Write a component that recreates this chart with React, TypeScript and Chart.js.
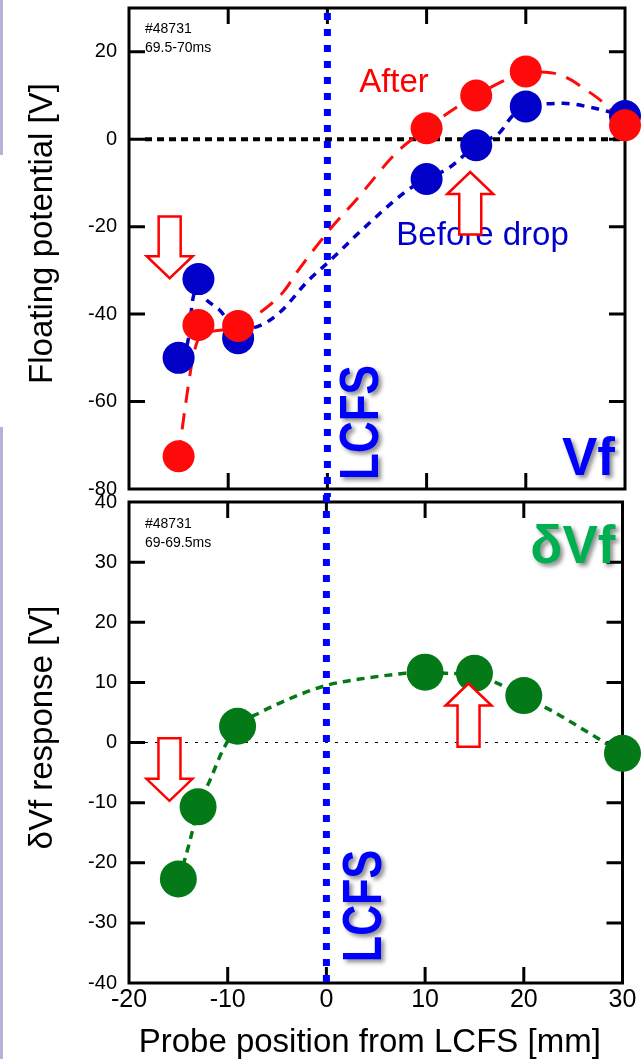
import React, { useEffect, useRef } from "react";
import { Chart, registerables } from "chart.js";

Chart.register(...registerables);

const FONT = '"Liberation Sans", Arial, Helvetica, sans-serif';

// ---- data ----
const probePos = [-15, -13, -9, 10, 15, 20, 30];
const vfBefore = [-50, -32, -45.5, -9.1, -1.4, 7.5, 5.3];
const vfAfter = [-72.5, -42.5, -42.7, 2.5, 10, 15.5, 3.2];
const dVf = [-22.7, -10.7, 2.7, 11.7, 11.5, 7.8, -1.8];

// fitted curves
const afterFitX = [-15, -14.3, -13.5, -12.8, -11.5, -9, -7, -4.4, -3, 0.3, 3, 7, 10, 12.5, 15, 18, 20, 22.5, 24, 26, 28, 30];
const afterFitY = [-72.5, -60.7, -49.3, -45, -43.9, -43, -40, -34.8, -30.2, -20.5, -13.6, -3, 2.5, 6.5, 10, 13.6, 15.4, 15.2, 14.2, 11.4, 8, 3.2];
const beforeFitX = [-15, -14, -13.6, -13, -12.5, -10.9, -9, -6.75, -4.7, -2, 0.3, 3.6, 8, 10, 12.1, 15, 17.4, 18.6, 20, 21.6, 23.8, 26.5, 28.2, 30];
const beforeFitY = [-50, -45.5, -37, -34, -36, -39, -43.5, -42.6, -39.4, -32.5, -27.7, -20.5, -11.8, -9, -6.8, -1.4, 1.6, 5.2, 7.5, 8, 8.2, 7.3, 6.4, 5.3];
const dvfFitX = [-15, -14.3, -13.5, -13, -11.8, -10.5, -9, -6.7, -3.4, 0, 4, 8, 10, 12.1, 15, 17.4, 20, 22.8, 26.2, 28.2, 30];
const dvfFitY = [-22.7, -19.2, -14.2, -10.7, -6.3, -1.3, 2.7, 5, 7.5, 9.5, 10.7, 11.5, 11.7, 11.5, 11.3, 9.8, 7.6, 5.3, 2, 0, -1.8];

const xTicks = [-20, -10, 0, 10, 20, 30];
const yTicksTop = [-80, -60, -40, -20, 0, 20];
const yTicksBottom = [-40, -30, -20, -10, 0, 10, 20, 30, 40];

// annotation arrows (x, tail y, tip y) in data units
const topArrowX = [-15.9, 14.4];
const topArrowFrom = [-17.7, -21.8];
const topArrowTo = [-31.8, -7.5];
const botArrowX = [-15.9, 14.4];
const botArrowFrom = [0.7, -0.7];
const botArrowTo = [-9.7, 9.8];

const RED = "#ff0a0a";
const BLUE = "#0000c8";
const GREEN = "#037a17";

const pts = (xs: number[], ys: number[]) => xs.map((x, i) => ({ x, y: ys[i] }));

function drawArrow(ctx, cx, ys, yt) {
  const sw = 22, hw = 46, hl = 22;
  const dir = yt > ys ? 1 : -1;
  const yh = yt - dir * hl;
  ctx.beginPath();
  ctx.moveTo(cx - sw / 2, ys);
  ctx.lineTo(cx + sw / 2, ys);
  ctx.lineTo(cx + sw / 2, yh);
  ctx.lineTo(cx + hw / 2, yh);
  ctx.lineTo(cx, yt);
  ctx.lineTo(cx - hw / 2, yh);
  ctx.lineTo(cx - sw / 2, yh);
  ctx.closePath();
  ctx.fillStyle = "#fff";
  ctx.fill();
  ctx.strokeStyle = "#ff0000";
  ctx.lineWidth = 2.5;
  ctx.lineJoin = "miter";
  ctx.stroke();
}

function panelPlugin(spec) {
  return {
    id: "panel",
    beforeDatasetsDraw(chart) {
      const { ctx, chartArea: a } = chart;
      const x = chart.scales.x;
      const y = chart.scales.y;
      ctx.save();
      // zero line
      const y0 = y.getPixelForValue(0);
      ctx.strokeStyle = "#000";
      ctx.lineWidth = spec.zeroWidth;
      ctx.setLineDash(spec.zeroDash);
      ctx.beginPath();
      ctx.moveTo(a.left + 16, y0);
      ctx.lineTo(a.right, y0);
      ctx.stroke();
      ctx.setLineDash([]);
      // frame
      ctx.lineWidth = 3;
      ctx.strokeRect(a.left, a.top, a.right - a.left, a.bottom - a.top);
      // inward ticks
      ctx.beginPath();
      spec.yTicks.forEach((v) => {
        const py = y.getPixelForValue(v);
        if (py > a.top + 2 && py < a.bottom - 2) {
          ctx.moveTo(a.left, py);
          ctx.lineTo(a.left + 16, py);
          ctx.moveTo(a.right - 16, py);
          ctx.lineTo(a.right, py);
        }
      });
      xTicks.forEach((v) => {
        const px = x.getPixelForValue(v);
        if (px > a.left + 2 && px < a.right - 2) {
          ctx.moveTo(px, a.top);
          ctx.lineTo(px, a.top + 16);
          ctx.moveTo(px, a.bottom - 16);
          ctx.lineTo(px, a.bottom);
        }
      });
      ctx.stroke();
      // LCFS line
      const x0 = x.getPixelForValue(0);
      ctx.strokeStyle = "#0000ff";
      ctx.lineWidth = 7;
      ctx.setLineDash([7, 9]);
      ctx.beginPath();
      ctx.moveTo(x0, a.top + spec.lcfsTopExt);
      ctx.lineTo(x0, a.bottom + spec.lcfsBottomExt);
      ctx.stroke();
      ctx.restore();
    },
    afterDatasetsDraw(chart) {
      const { ctx, chartArea: a } = chart;
      const x = chart.scales.x;
      const y = chart.scales.y;
      ctx.save();
      // notes
      ctx.textAlign = "left";
      ctx.textBaseline = "alphabetic";
      spec.notes.forEach((n) => {
        ctx.font = `33px ${FONT}`;
        ctx.fillStyle = n.color;
        ctx.fillText(n.text, x.getPixelForValue(n.x), y.getPixelForValue(n.y));
      });
      // info text
      ctx.fillStyle = "#000";
      ctx.font = `14px ${FONT}`;
      ctx.fillText(spec.info[0], a.left + 16, a.top + spec.infoY);
      ctx.fillText(spec.info[1], a.left + 16, a.top + spec.infoY + 19);
      // arrows
      spec.arrowX.forEach((ax, i) => {
        drawArrow(ctx, x.getPixelForValue(ax), y.getPixelForValue(spec.arrowFrom[i]), y.getPixelForValue(spec.arrowTo[i]));
      });
      // shadowed labels
      ctx.save();
      ctx.shadowColor = "rgba(0,0,0,0.45)";
      ctx.shadowBlur = 4;
      ctx.shadowOffsetX = 3;
      ctx.shadowOffsetY = 3;
      ctx.font = `bold 53px ${FONT}`;
      ctx.fillStyle = spec.labelColor;
      ctx.textAlign = "right";
      ctx.fillText(spec.label, a.right - spec.labelRight, spec.labelFromTop ? a.top + spec.labelY : a.bottom - spec.labelY);
      // LCFS rotated
      const x0 = x.getPixelForValue(0);
      ctx.font = `bold 56px ${FONT}`;
      ctx.fillStyle = "#0000ff";
      ctx.textAlign = "left";
      const w = ctx.measureText("LCFS").width;
      ctx.translate(x0 + spec.lcfsBase, a.bottom - spec.lcfsStart);
      ctx.rotate(-Math.PI / 2);
      ctx.scale(spec.lcfsLen / w, 1);
      ctx.fillText("LCFS", 0, 0);
      ctx.restore();
      ctx.restore();
    },
    afterDraw(chart) {
      const { ctx, chartArea: a } = chart;
      ctx.save();
      ctx.fillStyle = "#000";
      ctx.font = `33px ${FONT}`;
      ctx.textAlign = "center";
      ctx.textBaseline = "alphabetic";
      ctx.save();
      ctx.translate(52, (a.top + a.bottom) / 2 - 15);
      ctx.rotate(-Math.PI / 2);
      ctx.fillText(spec.yTitle, 0, 0);
      ctx.restore();
      if (spec.xTitle) {
        ctx.fillText(spec.xTitle, (a.left + a.right) / 2 - 6, a.bottom + 69);
      }
      ctx.restore();
    },
  };
}

function makeConfig(spec) {
  return {
    type: "scatter",
    data: { datasets: spec.datasets },
    options: {
      responsive: false,
      animation: false,
      events: [],
      layout: { padding: spec.padding },
      plugins: { legend: { display: false }, tooltip: { enabled: false } },
      scales: {
        x: {
          type: "linear",
          min: -20,
          max: 30,
          display: spec.showX,
          afterBuildTicks: (s) => {
            s.ticks = xTicks.map((v) => ({ value: v }));
          },
          afterFit: (s) => {
            s.height = spec.xHeight;
            s.paddingLeft = 0;
            s.paddingRight = 0;
          },
          grid: { display: false, drawTicks: false },
          border: { display: false },
          ticks: { font: { family: FONT, size: 25 }, color: "#000", padding: 2, maxRotation: 0, autoSkip: false },
        },
        y: {
          type: "linear",
          min: spec.yMin,
          max: spec.yMax,
          afterBuildTicks: (s) => {
            s.ticks = spec.yTicks.map((v) => ({ value: v }));
          },
          afterFit: (s) => {
            s.width = 129;
            s.paddingTop = 0;
            s.paddingBottom = 0;
          },
          grid: { display: false, drawTicks: false },
          border: { display: false },
          ticks: { font: { family: FONT, size: 20 }, color: "#000", padding: 12, autoSkip: false },
        },
      },
    },
    plugins: [panelPlugin(spec)],
  };
}

const pointSet = (xs, ys, color, r, order) => ({
  data: pts(xs, ys),
  backgroundColor: color,
  borderWidth: 0,
  pointRadius: r,
  pointHoverRadius: r,
  showLine: false,
  clip: false,
  order,
});

const curveSet = (xs, ys, color, dash, width, order) => ({
  data: pts(xs, ys),
  borderColor: color,
  borderWidth: width,
  borderDash: dash,
  pointRadius: 0,
  showLine: true,
  fill: false,
  cubicInterpolationMode: "monotone",
  clip: false,
  order,
});

const topSpec = {
  yMin: -80,
  yMax: 30,
  yTicks: yTicksTop,
  showX: false,
  xHeight: 0,
  padding: { left: 0, top: 38, right: 16, bottom: 31 },
  zeroWidth: 4,
  zeroDash: [7, 5],
  yTitle: "Floating potential [V]",
  xTitle: null,
  info: ["#48731", "69.5-70ms"],
  infoY: 25,
  label: "Vf",
  labelColor: "#0000ff",
  labelRight: 10,
  labelY: 14,
  labelFromTop: false,
  lcfsBase: 51,
  lcfsStart: 9,
  lcfsLen: 115,
  lcfsTopExt: 5,
  lcfsBottomExt: 8,
  arrowX: topArrowX,
  arrowFrom: topArrowFrom,
  arrowTo: topArrowTo,
  notes: [
    { text: "After", x: 3.2, y: 10.9, color: "#ff0000" },
    { text: "Before drop", x: 6.95, y: -24.3, color: "#0000cc" },
  ],
  datasets: [
    curveSet(beforeFitX, beforeFitY, BLUE, [8, 7], 3.5, 6),
    curveSet(afterFitX, afterFitY, RED, [16, 11], 3, 5),
    pointSet(probePos, vfBefore, BLUE, 16, 4),
    pointSet(probePos, vfAfter, RED, 16, 3),
  ],
};

const bottomSpec = {
  yMin: -40,
  yMax: 40,
  yTicks: yTicksBottom,
  showX: true,
  xHeight: 76,
  padding: { left: 0, top: 32, right: 16, bottom: 0 },
  zeroWidth: 1,
  zeroDash: [3, 7],
  yTitle: "δVf response [V]",
  xTitle: "Probe position from LCFS [mm]",
  info: ["#48731", "69-69.5ms"],
  infoY: 26,
  label: "δVf",
  labelColor: "#00b050",
  labelRight: 7,
  labelY: 61,
  labelFromTop: true,
  lcfsBase: 55,
  lcfsStart: 21,
  lcfsLen: 112,
  lcfsTopExt: -7,
  lcfsBottomExt: 0,
  arrowX: botArrowX,
  arrowFrom: botArrowFrom,
  arrowTo: botArrowTo,
  notes: [],
  datasets: [
    curveSet(dvfFitX, dvfFitY, GREEN, [8, 6], 3.5, 5),
    pointSet(probePos, dVf, GREEN, 18.5, 3),
  ],
};

export default function App() {
  const topRef = useRef<HTMLCanvasElement>(null);
  const botRef = useRef<HTMLCanvasElement>(null);
  useEffect(() => {
    const c1 = new Chart(topRef.current as HTMLCanvasElement, makeConfig(topSpec) as any);
    const c2 = new Chart(botRef.current as HTMLCanvasElement, makeConfig(bottomSpec) as any);
    return () => {
      c1.destroy();
      c2.destroy();
    };
  }, []);
  return (
    <div style={{ position: "absolute", left: 0, top: 0, width: 641, height: 1059, background: "#fff", overflow: "hidden" }}>
      <div style={{ position: "absolute", left: 0, top: 0, width: 3, height: 155, background: "#b3b3d9" }} />
      <div style={{ position: "absolute", left: 0, top: 427, width: 3, height: 632, background: "#b3b3d9" }} />
      <canvas ref={topRef} width={641} height={550} style={{ position: "absolute", left: 0, top: -30, width: 641, height: 550 }} />
      <canvas ref={botRef} width={641} height={589} style={{ position: "absolute", left: 0, top: 470, width: 641, height: 589 }} />
    </div>
  );
}
